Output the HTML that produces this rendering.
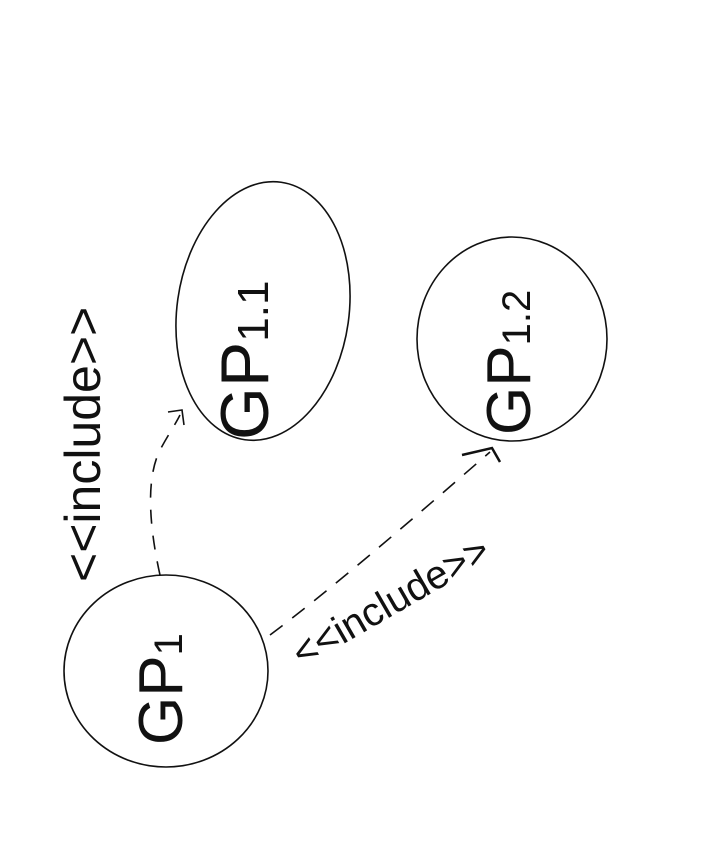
<!DOCTYPE html>
<html><head><meta charset="utf-8"><style>
html,body{margin:0;padding:0;background:#fff;}
svg{display:block;}
text{font-family:"Liberation Sans",sans-serif;fill:#111;}
</style></head><body>
<svg width="718" height="865" viewBox="0 0 718 865">
  <rect width="718" height="865" fill="#fff"/>
  <g fill="none" stroke="#111" stroke-width="1.6">
    <ellipse cx="263" cy="311" rx="86" ry="130" transform="rotate(8 263 311)"/>
    <ellipse cx="512" cy="339" rx="95" ry="102"/>
    <ellipse cx="166" cy="671" rx="102" ry="96"/>
    <path d="M160 575 C150 530 145 480 160 450 C168 435 175 425 180 415" stroke-dasharray="14 12"/>
    <path d="M168 412 L182 410 L184 425"/>
    <path d="M270 635 C330 590 400 530 490 452" stroke-dasharray="16 12"/>
    <path d="M462 455 L492 448 L500 462" stroke-width="2.5"/>
  </g>
  <text font-size="68" transform="translate(268 440) rotate(-90)">GP<tspan font-size="44">1.1</tspan></text>
  <text font-size="62" transform="translate(530 435) rotate(-90)">GP<tspan font-size="40">1.2</tspan></text>
  <text font-size="62" transform="translate(182 745) rotate(-90)">GP<tspan font-size="40">1</tspan></text>
  <text font-size="50" transform="translate(100 582) rotate(-90)">&lt;&lt;include&gt;&gt;</text>
  <text font-size="40" transform="translate(302 668) rotate(-30)">&lt;&lt;include&gt;&gt;</text>
</svg>
</body></html>
